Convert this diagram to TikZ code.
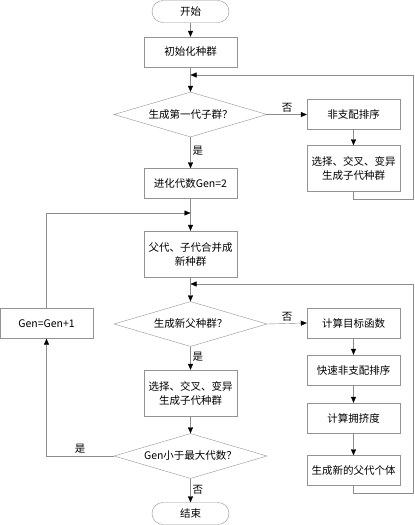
\documentclass[tikz,border=0pt]{standalone}
\usepackage{fontspec}
\setmainfont{Noto Sans CJK SC}
\usetikzlibrary{arrows.meta,positioning,shapes.geometric,calc}

\begin{document}
\begin{tikzpicture}[x=1pt,y=-1pt,
  box/.style={draw=gray!85,align=center,minimum width=93pt,minimum height=30pt,
              inner sep=1pt,font=\fontsize{10.5}{14}\selectfont},
  tallbox/.style={box,minimum height=46pt},
  term/.style={draw=gray!85,rounded corners=11pt,minimum width=77pt,
               minimum height=22pt,inner sep=0pt,font=\fontsize{10.5}{14}\selectfont},
  dec/.style={draw=gray!85,diamond,aspect=3.4,minimum width=153pt,
              minimum height=45pt,inner sep=0pt,font=\fontsize{10.5}{14}\selectfont},
  ar/.style={draw=gray!90,-{Triangle[length=6pt,width=5pt,color=black]}},
  lb/.style={font=\fontsize{10.5}{14}\selectfont,inner sep=2pt},
]
\useasboundingbox (0,0) rectangle (415,525);
% ============ main column ============
\node[term] (start) at (190.5,11.5) {开始};
\node[box] (init) at (190.5,52) {初始化种群};
\node[dec] (d1) at (190.5,114.5) {生成第一代子群？};
\node[box] (gen2) at (190.5,183.5) {进化代数Gen=2};
\node[tallbox] (merge) at (190.5,254) {父代、子代合并成\\新种群};
\node[dec] (d2) at (190.5,324) {生成新父种群？};
\node[tallbox] (sel2) at (190.5,393) {选择、交叉、变异\\生成子代种群};
\node[dec] (d3) at (190.5,456) {Gen小于最大代数？};
\node[term] (stop) at (190.5,513.5) {结束};
% ============ side boxes ============
\node[box] (nsort) at (353.5,114.5) {非支配排序};
\node[tallbox] (sel1) at (353.5,168.5) {选择、交叉、变异\\生成子代种群};
\node[box] (geninc) at (46.5,323.5) {Gen=Gen+1};
\node[box] (obj) at (353.5,323) {计算目标函数};
\node[box] (fsort) at (353.5,370) {快速非支配排序};
\node[box] (crowd) at (353.5,418) {计算拥挤度};
\node[box] (newpar) at (353.5,470.5) {生成新的父代个体};
% ============ loop points ============
\coordinate (top1) at (190.5,75);
\coordinate (e1) at (413.5,75);
\coordinate (top2) at (190.5,213);
\coordinate (top3) at (190.5,284);
\coordinate (e2) at (413.5,284);
% ============ connectors ============
\draw[ar] (start) -- (init);
\draw[ar] (init) -- (d1);
\draw[ar] (d1.east) -- node[lb,above,pos=.5] {否} (nsort.west);
\draw[ar] (nsort) -- (sel1);
\draw[ar] (sel1.south) -- ++(0,7) -| (e1) -- (top1);
\draw[ar] (d1.south) -- node[lb,right,pos=.45] {是} (gen2.north);
\draw[ar] (gen2) -- (merge);
\draw[ar] (merge) -- (d2);
\draw[ar] (d2.east) -- node[lb,above,pos=.5] {否} (obj.west);
\draw[ar] (obj) -- (fsort);
\draw[ar] (fsort) -- (crowd);
\draw[ar] (crowd) -- (newpar);
\draw[ar] (newpar.south) -- ++(0,7) -| (e2) -- (top3);
\draw[ar] (d2.south) -- node[lb,right,pos=.45] {是} (sel2.north);
\draw[ar] (sel2) -- (d3);
\draw[ar] (d3.west) -| node[lb,above,pos=.25] {是} (geninc.south);
\draw[ar] (geninc.north) |- (top2);
\draw[ar] (d3.south) -- node[lb,right,pos=.45] {否} (stop.north);
\end{tikzpicture}
\end{document}
